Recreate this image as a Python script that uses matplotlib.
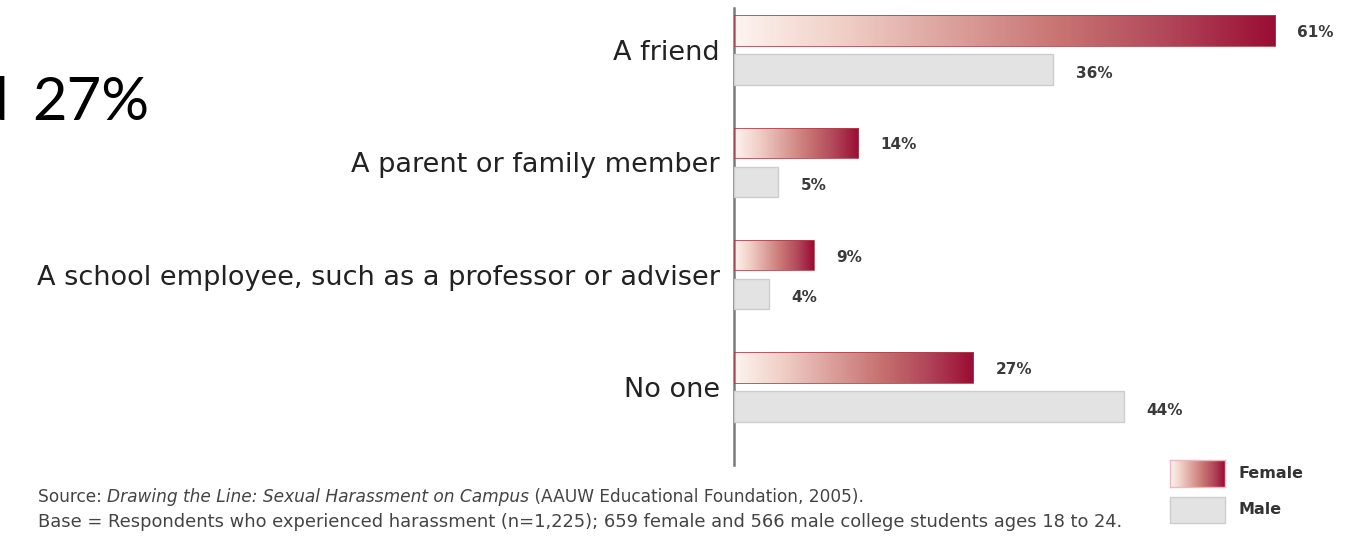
import numpy as np
import matplotlib
matplotlib.use('Agg')
import matplotlib.pyplot as plt
from matplotlib.colors import LinearSegmentedColormap
from matplotlib.patches import Rectangle

# ---- data ----
categories = ["A friend", "A parent or family member",
              "A school employee, such as a professor or adviser", "No one"]
female = [61, 14, 9, 27]
male = [36, 5, 4, 44]
series_names = ["Female", "Male"]
title_left = "d"
title_right = "27%"
source_prefix = "Source: "
source_title = "Drawing the Line: Sexual Harassment on Campus"
source_suffix = " (AAUW Educational Foundation, 2005)."
base_note = ("Base = Respondents who experienced harassment (n=1,225); "
             "659 female and 566 male college students ages 18 to 24.")

W, H = 1367, 536
fig = plt.figure(figsize=(W / 100, H / 100), dpi=100)
fig.patch.set_facecolor('white')

grad_cmap = LinearSegmentedColormap.from_list(
    'fem', ['#fdf4ef', '#f0cfc6', '#dca19c', '#c87472', '#b2475a', '#9a0c34'])
male_color = '#e3e3e3'
male_edge = '#cdcdcd'

px_per_pct = 8.87
ax = fig.add_axes([734 / W, 1 - 465 / H, (W - 734) / W, (465 - 8) / H])
xmax = (W - 734) / px_per_pct
ylim = (3.694, -0.374)

y = np.arange(len(categories))
bh = 0.27
off = 0.174

fbars = ax.barh(y - off, female, height=bh, color='none', edgecolor='#b0404f',
                linewidth=0.6, zorder=3)
mbars = ax.barh(y + off, male, height=bh, color=male_color, edgecolor=male_edge,
                linewidth=1.0, zorder=3)

grad = np.linspace(0, 1, 256).reshape(1, -1)
for p in fbars.patches:
    x0, yb = p.get_x(), p.get_y()
    w, h = p.get_width(), p.get_height()
    im = ax.imshow(grad, cmap=grad_cmap, aspect='auto',
                   extent=[x0, x0 + w, yb + h, yb], zorder=2, interpolation='bicubic')
    im.set_clip_path(p)

ax.set_xlim(0, xmax)
ax.set_ylim(*ylim)

for s in ['top', 'right', 'bottom']:
    ax.spines[s].set_visible(False)
ax.spines['left'].set_color('#7a7a7a')
ax.spines['left'].set_linewidth(1.8)
ax.set_xticks([])
ax.set_yticks(y)
ax.set_yticklabels(categories, fontsize=19.5, color='#222222', family='DejaVu Sans')
ax.tick_params(axis='y', length=0, pad=10)

for v, yy in zip(female, y - off):
    ax.annotate(f"{v}%", xy=(v, yy), xytext=(16, -1.5), textcoords='offset points',
                ha='left', va='center', fontsize=11, fontweight='bold', color='#3a3a3a')
for v, yy in zip(male, y + off):
    ax.annotate(f"{v}%", xy=(v, yy), xytext=(16, -2.5), textcoords='offset points',
                ha='left', va='center', fontsize=11, fontweight='bold', color='#3a3a3a')

# title fragment (cropped slide title, cut at the left edge as in the reference)
fig.text(8 / W, 1 - 120 / H, title_left, fontsize=43, ha='right',
         va='baseline', color='black', family='Lato')
fig.text(32 / W, 1 - 120 / H, title_right, fontsize=43, ha='left',
         va='baseline', color='black', family='Lato')

# source lines (fit font sizes so lines span the same widths as the reference)
fig.canvas.draw()
r = fig.canvas.get_renderer()
x = 38 / W


def width_of(txt, **kw):
    t = fig.text(x, 0.5, txt, fontsize=10, family='DejaVu Sans', **kw)
    wv = t.get_window_extent(r).width
    t.remove()
    return wv


fs2 = 10 * (1123 - 38) / width_of(base_note)
w1 = width_of(source_prefix) + width_of(source_title, style='italic') + width_of(source_suffix)
fs1 = 10 * (863 - 38) / w1

src_font = dict(color='#444444', family='DejaVu Sans', va='center')
yy = 1 - 497 / H
t = fig.text(x, yy, source_prefix, fontsize=fs1, **src_font)
bb = t.get_window_extent(r)
t2 = fig.text(bb.x1 / W, yy, source_title, style='italic', fontsize=fs1, **src_font)
bb2 = t2.get_window_extent(r)
fig.text(bb2.x1 / W, yy, source_suffix, fontsize=fs1, **src_font)
fig.text(x, 1 - 522 / H, base_note, fontsize=fs2, **src_font)

# legend
lax = fig.add_axes([1170 / W, 1 - 487 / H, 55 / W, 27 / H])
lax.imshow(grad, cmap=grad_cmap, aspect='auto', interpolation='bicubic')
lax.set_xticks([]); lax.set_yticks([])
for s in lax.spines.values():
    s.set_color('#e9b9bf'); s.set_linewidth(1)
fig.add_artist(Rectangle((1170 / W, 1 - 523 / H), 55 / W, 26 / H,
                         transform=fig.transFigure, facecolor=male_color,
                         edgecolor=male_edge, linewidth=1))
fig.text(1238 / W, 1 - 474 / H, series_names[0], fontsize=11.5, fontweight='bold',
         color='#333333', va='center')
fig.text(1238 / W, 1 - 510 / H, series_names[1], fontsize=11.5, fontweight='bold',
         color='#333333', va='center')

fig.savefig('out.png', dpi=100, facecolor='white')
